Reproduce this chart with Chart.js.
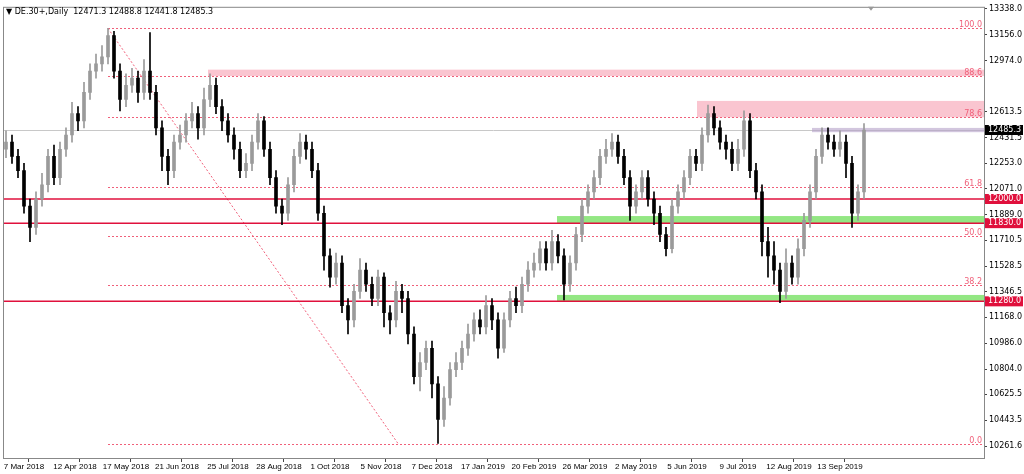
<!doctype html>
<html>
<head>
<meta charset="utf-8">
<script src="https://cdn.jsdelivr.net/npm/chart.js"></script>
<style>
  html, body { margin: 0; padding: 0; background: #ffffff; }
  #box { width: 1024px; height: 474px; }
</style>
</head>
<body>
<div id="box"><canvas id="c" width="1024" height="474"></canvas></div>
<script>
// closes, highs, lows (one candle per ~3 trading days)
const closes = [12400,12300,12200,11950,11800,12000,12100,12300,12150,12350,12450,12600,12550,12750,12900,12950,13000,13150,12900,12700,
  12800,12850,12750,12900,12750,12500,12300,12200,12400,12450,12550,12600,12500,12700,12800,12650,12550,12450,12350,12200,
  12250,12400,12550,12350,12150,11950,11900,12100,12300,12400,12350,12200,11900,11600,11450,11550,11250,11150,11350,11500,
  11400,11300,11450,11200,11150,11350,11300,11050,10750,10850,10950,10700,10450,10600,10800,10850,10950,11050,11150,11100,
  11250,11150,10950,11150,11300,11250,11400,11500,11550,11650,11550,11700,11600,11400,11550,11750,11950,12050,12150,12300,
  12350,12400,12300,12150,11950,12050,12150,12000,11900,11750,11650,11950,12050,12150,12300,12250,12450,12600,12500,12400,
  12350,12250,12350,12550,12200,12050,11700,11600,11500,11350,11550,11450,11650,11850,12050,12300,12450,12400,12350,12400,
  12250,11900,12050,12485];
const highs = [12480,12450,12350,12250,12000,12050,12180,12350,12380,12400,12500,12680,12650,12820,12950,13020,13080,13200,13180,12950,
  12880,12920,12900,12980,13170,12800,12550,12350,12450,12520,12600,12680,12650,12780,12880,12850,12700,12600,12500,12400,
  12320,12450,12600,12580,12400,12200,12000,12150,12350,12460,12450,12400,12250,11950,11650,11620,11600,11300,11400,11580,
  11550,11450,11500,11480,11250,11420,11400,11350,11100,10920,11000,11000,10750,10680,10850,10920,11000,11120,11200,11220,
  11320,11300,11200,11200,11350,11380,11450,11560,11620,11700,11700,11780,11750,11650,11600,11800,12000,12100,12200,12350,
  12420,12460,12450,12350,12200,12100,12200,12200,12050,11950,11800,12000,12100,12200,12350,12350,12500,12660,12650,12550,
  12450,12400,12420,12620,12600,12250,12100,11800,11700,11550,11650,11600,11720,11900,12100,12350,12500,12500,12450,12480,
  12450,12300,12100,12530];
const lows = [12290,12250,12150,11900,11700,11750,11950,12050,12100,12100,12300,12400,12480,12500,12700,12850,12900,12950,12850,12620,
  12650,12750,12680,12700,12700,12450,12200,12100,12150,12350,12400,12500,12420,12450,12650,12600,12480,12400,12280,12150,
  12150,12200,12350,12300,12100,11900,11820,11850,12050,12250,12280,12150,11850,11500,11380,11400,11200,11050,11100,11300,
  11350,11250,11250,11100,11050,11100,11200,10980,10700,10650,10800,10600,10280,10400,10550,10750,10800,10900,11000,11050,
  11050,11080,10880,10920,11100,11200,11200,11350,11450,11500,11500,11500,11550,11290,11350,11500,11700,11900,12000,12100,
  12250,12300,12250,12100,11850,11900,12000,11950,11820,11700,11600,11620,11900,12000,12100,12200,12200,12400,12450,12350,
  12280,12200,12200,12300,12150,12000,11600,11450,11400,11270,11300,11400,11400,11600,11800,12000,12250,12350,12300,12300,
  12150,11800,11850,12000];
const firstOpen = 12350;
const dateLabels = ['7 Mar 2018','12 Apr 2018','17 May 2018','21 Jun 2018','25 Jul 2018','28 Aug 2018','1 Oct 2018','5 Nov 2018',
  '7 Dec 2018','17 Jan 2019','20 Feb 2019','26 Mar 2019','2 May 2019','5 Jun 2019','9 Jul 2019','12 Aug 2019','13 Sep 2019'];
const priceTicks = [13338.0,13156.0,12974.0,12613.5,12431.5,12253.0,12071.0,11889.0,11710.5,11528.5,11346.5,11168.0,10986.0,10804.0,10625.5,10443.5,10261.6];
const fibLevels = [0, 38.2, 50, 61.8, 78.6, 88.6, 100];
const fibLow = 10280, fibHigh = 13200;
const redLevels = [12000, 11830, 11280];
const lastPrice = 12485.3;

const opens = closes.map((c, i) => i === 0 ? firstOpen : closes[i - 1]);
const xs = closes.map((c, i) => 1.5 + 3 * i);
const colorOf = i => closes[i] >= opens[i] ? '#9a9a9a' : '#000000';
const wicks = xs.map((x, i) => ({ x: x, y: [lows[i], highs[i]] }));
const bodies = xs.map((x, i) => {
  let a = opens[i], b = closes[i];
  if (Math.abs(a - b) < 8) b = a + 8;
  return { x: x, y: [a, b] };
});

const levels = {
  id: 'levels',
  beforeDatasetsDraw(chart) {
    const { ctx, chartArea: ca, scales: { x, y } } = chart;
    ctx.save();
    const band = (x0, v1, v2, col) => {
      ctx.fillStyle = col;
      const y1 = y.getPixelForValue(v1), y2 = y.getPixelForValue(v2);
      ctx.fillRect(x.getPixelForValue(x0), Math.min(y1, y2), ca.right - x.getPixelForValue(x0), Math.abs(y2 - y1));
    };
    band(102.5, 12865, 12910, 'rgba(245,150,170,0.55)');
    band(347, 12575, 12690, 'rgba(245,150,170,0.55)');
    band(277, 11830, 11880, 'rgba(120,225,100,0.8)');
    band(277, 11280, 11325, 'rgba(120,225,100,0.8)');
    // current price line
    ctx.strokeStyle = '#c8c8c8'; ctx.lineWidth = 1;
    let yy = Math.round(y.getPixelForValue(lastPrice)) + 0.5;
    ctx.beginPath(); ctx.moveTo(ca.left, yy); ctx.lineTo(ca.right, yy); ctx.stroke();
    band(404.5, 12470, 12500, 'rgba(180,160,200,0.6)');
    // fib lines
    ctx.setLineDash([2, 2]); ctx.strokeStyle = '#f0607a';
    ctx.font = '8px "DejaVu Sans"'; ctx.fillStyle = '#f0607a'; ctx.textAlign = 'right';
    fibLevels.forEach(f => {
      const v = fibLow + (fibHigh - fibLow) * f / 100;
      const py = Math.round(y.getPixelForValue(v)) + 0.5;
      ctx.beginPath(); ctx.moveTo(x.getPixelForValue(52.5), py); ctx.lineTo(ca.right, py); ctx.stroke();
      ctx.fillText(f.toFixed(1), ca.right - 2, py - 2);
    });
    ctx.beginPath();
    ctx.moveTo(x.getPixelForValue(52.5), y.getPixelForValue(fibHigh));
    ctx.lineTo(x.getPixelForValue(197.5), y.getPixelForValue(fibLow));
    ctx.stroke();
    ctx.setLineDash([]);
    ctx.strokeStyle = '#e0103c'; ctx.lineWidth = 1.5;
    redLevels.forEach(v => {
      const py = y.getPixelForValue(v);
      ctx.beginPath(); ctx.moveTo(ca.left, py); ctx.lineTo(ca.right, py); ctx.stroke();
    });
    ctx.restore();
  },
  afterDraw(chart) {
    const { ctx, chartArea: ca, scales: { y } } = chart;
    ctx.save();
    ctx.font = '8px "DejaVu Sans"'; ctx.textBaseline = 'middle'; ctx.textAlign = 'left';
    const tag = (v, bg) => {
      const py = y.getPixelForValue(v);
      ctx.fillStyle = bg; ctx.fillRect(ca.right + 1, py - 5, 38, 10);
      ctx.fillStyle = '#ffffff'; ctx.fillText(v.toFixed(1), ca.right + 4, py);
    };
    redLevels.forEach(v => tag(v, '#e0103c'));
    tag(lastPrice, '#000000');
    ctx.strokeStyle = '#888'; ctx.lineWidth = 1;
    ctx.strokeRect(ca.left + 0.5, ca.top + 0.5, ca.right - ca.left, ca.bottom - ca.top);
    ctx.fillStyle = '#000'; ctx.font = '8px "DejaVu Sans"';
    ctx.fillText('\u25BC DE.30+,Daily  12471.3 12488.8 12441.8 12485.3', ca.left + 3, ca.top + 5);
    ctx.fillStyle = '#999';
    ctx.beginPath(); ctx.moveTo(ca.right - 116, ca.top); ctx.lineTo(ca.right - 110, ca.top); ctx.lineTo(ca.right - 113, ca.top + 4); ctx.fill();
    ctx.restore();
  }
};

new Chart(document.getElementById('c'), {
  type: 'bar',
  data: {
    datasets: [
      { data: wicks, backgroundColor: xs.map((x, i) => colorOf(i)), barThickness: 1, grouped: false, order: 2 },
      { data: bodies, backgroundColor: xs.map((x, i) => colorOf(i)), barThickness: 3, grouped: false, order: 1 }
    ]
  },
  options: {
    responsive: false,
    animation: false,
    layout: { padding: { left: 3, top: 3, right: 0, bottom: 0 } },
    plugins: { legend: { display: false }, tooltip: { enabled: false } },
    scales: {
      x: {
        type: 'linear', min: 0, max: 490.5, offset: false,
        grid: { display: true, drawOnChartArea: false, drawTicks: true, tickLength: 4, tickColor: '#444' },
        border: { display: false },
        afterBuildTicks: s => { s.ticks = dateLabels.map((l, i) => ({ value: i * 25.5 })); },
        afterFit: s => { s.height = 16; s.paddingLeft = 0; s.paddingRight = 0; },
        ticks: {
          autoSkip: false, maxRotation: 0, padding: 0,
          font: { family: 'Liberation Sans', size: 8 }, color: '#000',
          labelOffset: 21,
          callback: (v, i) => dateLabels[i]
        }
      },
      y: {
        position: 'right', min: 10178, max: 13352,
        grid: { display: true, drawOnChartArea: false, drawTicks: true, tickLength: 3, tickColor: '#444' },
        border: { display: false },
        afterBuildTicks: s => { s.ticks = priceTicks.map(v => ({ value: v })); },
        afterFit: s => { s.width = 40; },
        ticks: {
          autoSkip: false, padding: 2,
          font: { family: 'DejaVu Sans', size: 8 }, color: '#000',
          callback: v => v.toFixed(1)
        }
      }
    }
  },
  plugins: [levels]
});
</script>
</body>
</html>
